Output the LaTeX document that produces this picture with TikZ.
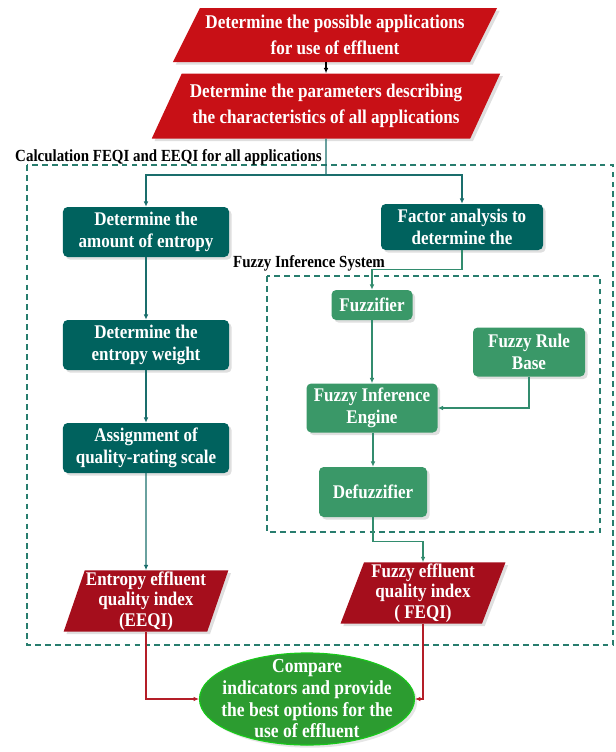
\documentclass[tikz,border=0pt]{standalone}
\usepackage{fontspec}
\setmainfont{Liberation Serif}[FakeStretch=0.88]
\usetikzlibrary{arrows.meta,shapes.geometric,shadows}
\definecolor{parared}{RGB}{200,16,22}
\definecolor{darkred}{RGB}{165,14,28}
\definecolor{tealbox}{RGB}{0,98,94}
\definecolor{fuzzgreen}{RGB}{58,152,104}
\definecolor{ovalgreen}{RGB}{44,156,48}
\definecolor{tealline}{RGB}{26,110,108}
\definecolor{fuzzline}{RGB}{50,140,110}
\definecolor{redline}{RGB}{180,30,40}
\definecolor{dashteal}{RGB}{40,125,110}
\tikzset{
  parabox/.style={trapezium, trapezium left angle=58, trapezium right angle=122, trapezium stretches=true, fill=parared, text=white, font=\bfseries\fontsize{16.6}{22}\selectfont, align=center, inner sep=1pt, drop shadow={opacity=0.25}},
  idxbox/.style={parabox, trapezium left angle=71, trapezium right angle=109, fill=darkred, font=\bfseries\fontsize{16.5}{17.5}\selectfont},
  tealrect/.style={draw=none, rounded corners=4pt, fill=tealbox, text=white, minimum width=4.98cm, minimum height=1.5cm, align=center, inner sep=1pt, font=\bfseries\fontsize{16.5}{18.5}\selectfont, drop shadow={opacity=0.25}},
  fuzzrect/.style={tealrect, fill=fuzzgreen},
  ovalbox/.style={ellipse, fill=ovalgreen, draw=green!45!ovalgreen, line width=1pt, text=white, align=center, inner xsep=-0.45cm, inner ysep=-0.3cm, minimum width=6.45cm, minimum height=2.76cm, font=\bfseries\fontsize{17}{18.5}\selectfont, drop shadow={opacity=0.2}},
  grouplabel/.style={font=\bfseries\fontsize{14.5}{16}\selectfont, inner sep=0pt},
  groupline/.style={draw=dashteal, line width=1pt, dash pattern=on 5pt off 3.5pt},
  tline/.style={draw=tealline, line width=1.1pt},
  fline/.style={draw=fuzzline, line width=0.9pt},
  rline/.style={draw=redline, line width=0.9pt},
  cline/.style={-{Latex[length=1.6mm,width=1.4mm]}},
}
\begin{document}
\begin{tikzpicture}[x=0.03cm, y=-0.03cm]
  \useasboundingbox (0,0) rectangle (616,752);

  \node[parabox, minimum width=9.75cm, minimum height=1.62cm] (apps) at (335,35) {Determine the possible applications\\for use of effluent};
  \node[parabox, minimum width=10.47cm, minimum height=1.95cm] (params) at (326,106) {Determine the parameters describing\\the characteristics of all applications};
  \draw[cline, line width=0.9pt] (apps.south -| params.north) -- (params.north);

  % calculation block
  \draw[groupline] (27,165) rectangle (613,645);
  \node[grouplabel, anchor=base west] (calclbl) at (15,161) {Calculation FEQI and EEQI for all applications};

  \coordinate (split) at (326,175);
  \node[tealrect] (amount) at (146,232) {Determine the\\amount of entropy};
  \node[tealrect] (weight) at (146,345) {Determine the\\entropy weight};
  \node[tealrect] (rating) at (146,448) {Assignment of\\quality-rating scale};
  \node[tealrect, minimum width=4.86cm, minimum height=1.38cm] (factor) at (462,227) {Factor analysis to\\determine the};

  \draw[tline] (params.south) -- (split);
  \foreach \b in {amount,factor} {
    \draw[tline, cline] (split) -| (\b.north);
  }
  \draw[tline, cline] (amount) -- (weight);
  \draw[tline, cline] (weight) -- (rating);

  % fuzzy inference system
  \draw[groupline] (267,276) rectangle (600,532);
  \node[grouplabel, anchor=base west] (fislbl) at (233,267) {Fuzzy Inference System};

  \node[fuzzrect, minimum width=2.43cm, minimum height=0.9cm] (fuzzifier) at (372,305) {Fuzzifier};
  \node[fuzzrect, minimum width=3.36cm, minimum height=1.47cm] (rulebase) at (529,352) {Fuzzy Rule\\Base};
  \node[fuzzrect, minimum width=3.93cm, minimum height=1.47cm] (engine) at (372,408) {Fuzzy Inference\\Engine};
  \node[fuzzrect, minimum width=3.24cm, minimum height=1.5cm] (defuzz) at (373,492) {Defuzzifier};

  \draw[fline, cline] (factor.south) -- ++(0,19) -| (fuzzifier.north);
  \draw[fline, cline] (fuzzifier) -- (engine);
  \draw[fline, cline] (rulebase.south) |- (engine.east);
  \draw[fline, cline] (engine.south -| defuzz.north) -- (defuzz.north);

  % indices
  \node[idxbox, minimum width=4.89cm, minimum height=1.74cm] (eeqi) at (146,601) {Entropy effluent\\quality index\\(EEQI)};
  \node[idxbox, minimum width=4.95cm, minimum height=1.71cm] (feqi) at (423,593) {Fuzzy effluent\\quality index\\( FEQI)};
  \draw[tline, cline] (rating) -- (eeqi);
  \draw[fline, cline] (defuzz.south) -- ++(0,24) -| (feqi.north);

  \node[ovalbox] (compare) at (307,699) {Compare\\indicators and provide\\the best options for the\\use of effluent};
  \draw[rline, cline] (eeqi.south) |- (compare.west);
  \draw[rline, cline] (feqi.south) |- (compare.east);
\end{tikzpicture}
\end{document}
